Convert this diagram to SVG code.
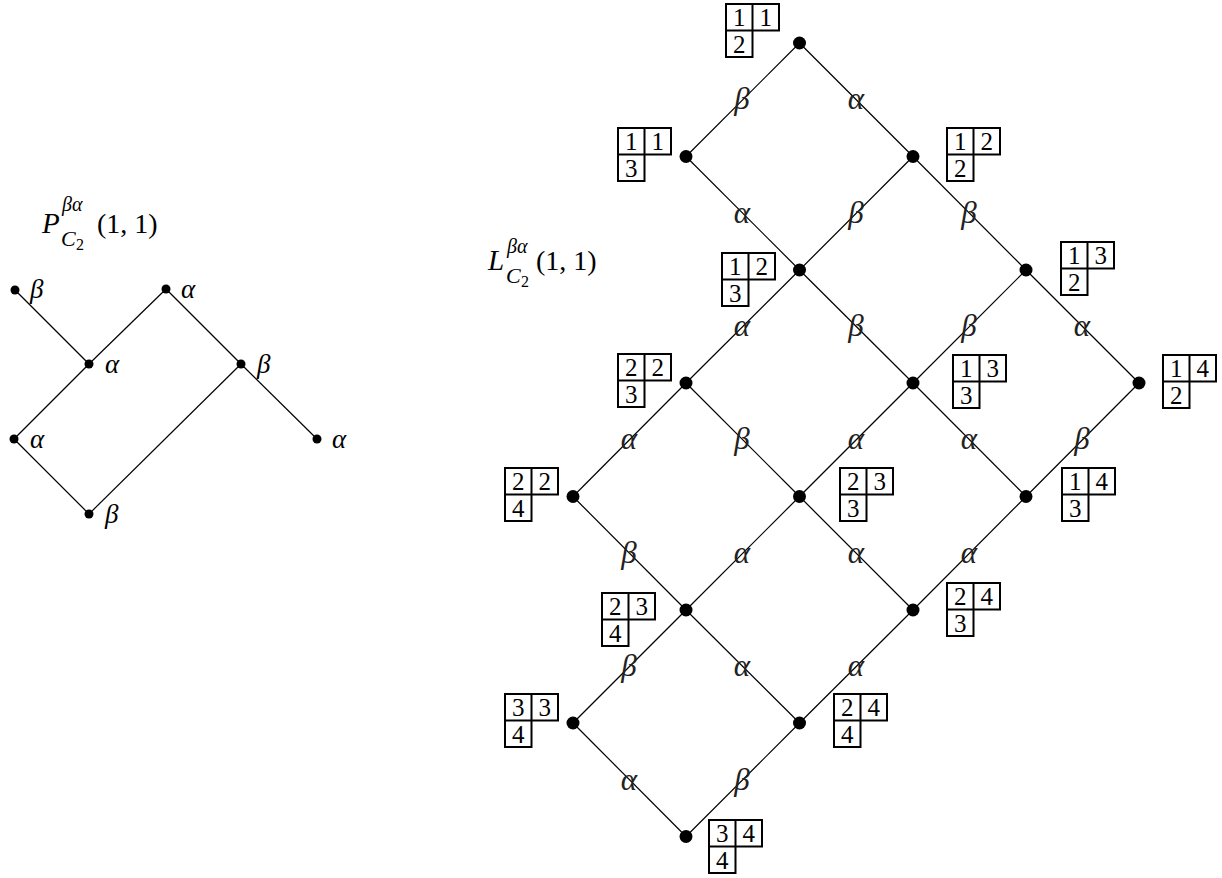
<svg xmlns="http://www.w3.org/2000/svg" width="1222" height="878" viewBox="0 0 1222 878">
<style>
.e{stroke:#000;stroke-width:1.2;fill:none}
.d{fill:#000}
.g{font-family:"Liberation Serif",serif;font-style:italic;font-size:27px;fill:#000}
.gl{font-family:"Liberation Serif",serif;font-style:italic;font-size:31px;fill:#222;text-anchor:middle}
.t{font-family:"Liberation Serif",serif;font-size:28px;fill:#000}
.s{font-family:"Liberation Serif",serif;font-size:16px;fill:#000}
.ti{font-family:"Liberation Serif",serif;font-style:italic;fill:#000}
.tb{stroke:#000;stroke-width:2;fill:#fff}
.tn{font-family:"Liberation Serif",serif;font-size:25px;fill:#000;text-anchor:middle}
</style>
<defs>
<path id="shape" d="M0,0 H53 V26.5 H26.5 V53 H0 Z M26.5,0 V26.5 M0,26.5 H26.5" class="tb"/>
</defs>

<g id="titleP">
<text x="42" y="233" class="ti" font-size="29">P</text>
<text x="62" y="211" class="ti" font-size="20">βα</text>
<text x="61" y="246" class="ti" font-size="22">C</text>
<text x="76" y="250" class="s">2</text>
<text x="97" y="233" class="t">(1, 1)</text>
</g>

<g id="connectorsP">
<line class="e" x1="15" y1="290" x2="89" y2="364"/>
<line class="e" x1="166" y1="289" x2="89" y2="364"/>
<line class="e" x1="166" y1="289" x2="241" y2="364"/>
<line class="e" x1="89" y1="364" x2="14" y2="439"/>
<line class="e" x1="241" y1="364" x2="317" y2="439"/>
<line class="e" x1="14" y1="439" x2="89" y2="514"/>
<line class="e" x1="241" y1="364" x2="89" y2="514"/>
</g>
<g id="p1"><circle class="d" cx="15" cy="290" r="4.5"/><text class="g" x="30" y="298">β</text></g>
<g id="p2"><circle class="d" cx="166" cy="289" r="4.5"/><text class="g" x="181" y="298">α</text></g>
<g id="p3"><circle class="d" cx="89" cy="364" r="4.5"/><text class="g" x="105" y="373">α</text></g>
<g id="p4"><circle class="d" cx="241" cy="364" r="4.5"/><text class="g" x="257" y="373">β</text></g>
<g id="p5"><circle class="d" cx="14" cy="439" r="4.5"/><text class="g" x="30" y="448">α</text></g>
<g id="p6"><circle class="d" cx="317" cy="439" r="4.5"/><text class="g" x="332" y="448">α</text></g>
<g id="p7"><circle class="d" cx="89" cy="514" r="4.5"/><text class="g" x="105" y="523">β</text></g>

<g id="titleL">
<text x="488" y="270" class="ti" font-size="29">L</text>
<text x="507" y="253" class="ti" font-size="20">βα</text>
<text x="506" y="283" class="ti" font-size="22">C</text>
<text x="521" y="287" class="s">2</text>
<text x="536" y="270" class="t">(1, 1)</text>
</g>

<g id="connectorsL">
<line class="e" x1="799.5" y1="43" x2="686" y2="156.5"/>
<line class="e" x1="799.5" y1="43" x2="913" y2="156.5"/>
<line class="e" x1="686" y1="156.5" x2="799.5" y2="270"/>
<line class="e" x1="913" y1="156.5" x2="799.5" y2="270"/>
<line class="e" x1="913" y1="156.5" x2="1026" y2="270"/>
<line class="e" x1="799.5" y1="270" x2="686" y2="383"/>
<line class="e" x1="799.5" y1="270" x2="913" y2="383"/>
<line class="e" x1="1026" y1="270" x2="913" y2="383"/>
<line class="e" x1="1026" y1="270" x2="1139" y2="383"/>
<line class="e" x1="686" y1="383" x2="573" y2="496.5"/>
<line class="e" x1="686" y1="383" x2="799.5" y2="496.5"/>
<line class="e" x1="913" y1="383" x2="799.5" y2="496.5"/>
<line class="e" x1="913" y1="383" x2="1026" y2="496.5"/>
<line class="e" x1="1139" y1="383" x2="1026" y2="496.5"/>
<line class="e" x1="573" y1="496.5" x2="686" y2="610"/>
<line class="e" x1="799.5" y1="496.5" x2="686" y2="610"/>
<line class="e" x1="799.5" y1="496.5" x2="913" y2="610"/>
<line class="e" x1="1026" y1="496.5" x2="913" y2="610"/>
<line class="e" x1="686" y1="610" x2="573" y2="723"/>
<line class="e" x1="686" y1="610" x2="799.5" y2="723"/>
<line class="e" x1="913" y1="610" x2="799.5" y2="723"/>
<line class="e" x1="573" y1="723" x2="686" y2="836.5"/>
<line class="e" x1="799.5" y1="723" x2="686" y2="836.5"/>
<g id="edgeLabels">
<text class="gl" x="742" y="109">β</text>
<text class="gl" x="856" y="109">α</text>
<text class="gl" x="742" y="223">α</text>
<text class="gl" x="856" y="223">β</text>
<text class="gl" x="969" y="223">β</text>
<text class="gl" x="742" y="336">α</text>
<text class="gl" x="856" y="336">β</text>
<text class="gl" x="969" y="336">β</text>
<text class="gl" x="1082" y="336">α</text>
<text class="gl" x="629" y="449">α</text>
<text class="gl" x="742" y="449">β</text>
<text class="gl" x="856" y="449">α</text>
<text class="gl" x="969" y="449">α</text>
<text class="gl" x="1082" y="449">β</text>
<text class="gl" x="629" y="563">β</text>
<text class="gl" x="742" y="563">α</text>
<text class="gl" x="856" y="563">α</text>
<text class="gl" x="969" y="563">α</text>
<text class="gl" x="629" y="676">β</text>
<text class="gl" x="742" y="676">α</text>
<text class="gl" x="856" y="676">α</text>
<text class="gl" x="629" y="790">α</text>
<text class="gl" x="742" y="790">β</text>
</g>
</g>

<g id="nA"><circle class="d" cx="799.5" cy="43" r="6.5"/><g transform="translate(726,4)"><use href="#shape"/><text class="tn" x="13.25" y="22">1</text><text class="tn" x="39.75" y="22">1</text><text class="tn" x="13.25" y="48.5">2</text></g></g>
<g id="nB"><circle class="d" cx="686" cy="156.5" r="6.5"/><g transform="translate(618,128)"><use href="#shape"/><text class="tn" x="13.25" y="22">1</text><text class="tn" x="39.75" y="22">1</text><text class="tn" x="13.25" y="48.5">3</text></g></g>
<g id="nC"><circle class="d" cx="913" cy="156.5" r="6.5"/><g transform="translate(947,128)"><use href="#shape"/><text class="tn" x="13.25" y="22">1</text><text class="tn" x="39.75" y="22">2</text><text class="tn" x="13.25" y="48.5">2</text></g></g>
<g id="nD"><circle class="d" cx="799.5" cy="270" r="6.5"/><g transform="translate(722,253)"><use href="#shape"/><text class="tn" x="13.25" y="22">1</text><text class="tn" x="39.75" y="22">2</text><text class="tn" x="13.25" y="48.5">3</text></g></g>
<g id="nE"><circle class="d" cx="1026" cy="270" r="6.5"/><g transform="translate(1061,242)"><use href="#shape"/><text class="tn" x="13.25" y="22">1</text><text class="tn" x="39.75" y="22">3</text><text class="tn" x="13.25" y="48.5">2</text></g></g>
<g id="nF"><circle class="d" cx="686" cy="383" r="6.5"/><g transform="translate(618,354)"><use href="#shape"/><text class="tn" x="13.25" y="22">2</text><text class="tn" x="39.75" y="22">2</text><text class="tn" x="13.25" y="48.5">3</text></g></g>
<g id="nG"><circle class="d" cx="913" cy="383" r="6.5"/><g transform="translate(953,355)"><use href="#shape"/><text class="tn" x="13.25" y="22">1</text><text class="tn" x="39.75" y="22">3</text><text class="tn" x="13.25" y="48.5">3</text></g></g>
<g id="nH"><circle class="d" cx="1139" cy="383" r="6.5"/><g transform="translate(1163,355)"><use href="#shape"/><text class="tn" x="13.25" y="22">1</text><text class="tn" x="39.75" y="22">4</text><text class="tn" x="13.25" y="48.5">2</text></g></g>
<g id="nI"><circle class="d" cx="573" cy="496.5" r="6.5"/><g transform="translate(505,468)"><use href="#shape"/><text class="tn" x="13.25" y="22">2</text><text class="tn" x="39.75" y="22">2</text><text class="tn" x="13.25" y="48.5">4</text></g></g>
<g id="nJ"><circle class="d" cx="799.5" cy="496.5" r="6.5"/><g transform="translate(840,468)"><use href="#shape"/><text class="tn" x="13.25" y="22">2</text><text class="tn" x="39.75" y="22">3</text><text class="tn" x="13.25" y="48.5">3</text></g></g>
<g id="nK"><circle class="d" cx="1026" cy="496.5" r="6.5"/><g transform="translate(1062,468)"><use href="#shape"/><text class="tn" x="13.25" y="22">1</text><text class="tn" x="39.75" y="22">4</text><text class="tn" x="13.25" y="48.5">3</text></g></g>
<g id="nL"><circle class="d" cx="686" cy="610" r="6.5"/><g transform="translate(602,593)"><use href="#shape"/><text class="tn" x="13.25" y="22">2</text><text class="tn" x="39.75" y="22">3</text><text class="tn" x="13.25" y="48.5">4</text></g></g>
<g id="nM"><circle class="d" cx="913" cy="610" r="6.5"/><g transform="translate(947,583)"><use href="#shape"/><text class="tn" x="13.25" y="22">2</text><text class="tn" x="39.75" y="22">4</text><text class="tn" x="13.25" y="48.5">3</text></g></g>
<g id="nN"><circle class="d" cx="573" cy="723" r="6.5"/><g transform="translate(505,694)"><use href="#shape"/><text class="tn" x="13.25" y="22">3</text><text class="tn" x="39.75" y="22">3</text><text class="tn" x="13.25" y="48.5">4</text></g></g>
<g id="nO"><circle class="d" cx="799.5" cy="723" r="6.5"/><g transform="translate(834,694)"><use href="#shape"/><text class="tn" x="13.25" y="22">2</text><text class="tn" x="39.75" y="22">4</text><text class="tn" x="13.25" y="48.5">4</text></g></g>
<g id="nP"><circle class="d" cx="686" cy="836.5" r="6.5"/><g transform="translate(709,820)"><use href="#shape"/><text class="tn" x="13.25" y="22">3</text><text class="tn" x="39.75" y="22">4</text><text class="tn" x="13.25" y="48.5">4</text></g></g>
</svg>
